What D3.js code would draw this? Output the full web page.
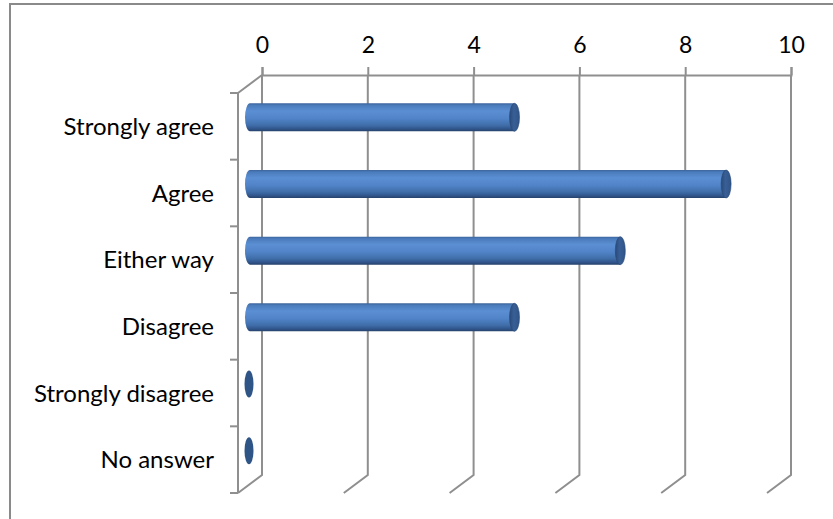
<!DOCTYPE html>
<html>
<head>
<meta charset="utf-8">
<script src="https://cdn.jsdelivr.net/npm/d3@7"></script>
<style>
  body { margin: 0; background: #fff; }
  svg { display: block; }
  text { font-family: Lato, "Open Sans", sans-serif; fill: #000; }
</style>
</head>
<body>
<svg id="chart" width="833" height="519"></svg>
<script>
// Survey responses
const categories = ["Strongly agree", "Agree", "Either way", "Disagree", "Strongly disagree", "No answer"];
const values = [5, 9, 7, 5, 0, 0];
const tickValues = [0, 2, 4, 6, 8, 10];

const svg = d3.select("#chart");

// Back wall of the 3D plot and the depth offset toward the viewer
const back = { left: 262, right: 791, top: 75, bottom: 475 };
const depth = { dx: -24, dy: 18 };
const mid = { dx: depth.dx / 2, dy: depth.dy / 2 };

const x = d3.scaleLinear().domain([0, 10]).range([back.left, back.right]);
const y = d3.scaleBand().domain(categories).range([back.top, back.bottom]);

const gridColor = "#8f8f8f";

// Outer frame
svg.append("rect")
  .attr("x", 10).attr("y", 4).attr("width", 900).attr("height", 600)
  .attr("fill", "none").attr("stroke", "#8a8a8a").attr("stroke-width", 2);

// Gradients for the cylinder body and its end cap
const defs = svg.append("defs");
const body = defs.append("linearGradient").attr("id", "cylBody")
  .attr("x1", 0).attr("y1", 0).attr("x2", 0).attr("y2", 1);
[["0%", "#3b639b"], ["7%", "#4a7bbb"], ["28%", "#5b8fd3"], ["55%", "#5083c7"],
 ["78%", "#406ea9"], ["92%", "#30548a"], ["100%", "#26426b"]]
  .forEach(([o, c]) => body.append("stop").attr("offset", o).attr("stop-color", c));
const cap = defs.append("linearGradient").attr("id", "cylCap")
  .attr("x1", 0).attr("y1", 0).attr("x2", 1).attr("y2", 0);
[["0%", "#2a4b7a"], ["45%", "#385f96"], ["100%", "#2f5488"]]
  .forEach(([o, c]) => cap.append("stop").attr("offset", o).attr("stop-color", c));

// Vertical gridlines on the back wall, each bending down to the floor edge
const grid = svg.append("g").attr("fill", "none").attr("stroke", gridColor).attr("stroke-width", 2);
grid.selectAll("path.grid").data(tickValues).join("path")
  .attr("class", "grid")
  .attr("d", t => `M${x(t)},${back.top}V${back.bottom}l${depth.dx},${depth.dy}`);

// Top value axis
const xAxis = d3.axisTop(x).tickValues(tickValues).tickSize(8).tickPadding(14);
const gx = svg.append("g").attr("transform", `translate(0,${back.top})`).call(xAxis);
gx.selectAll("path, line").attr("stroke", gridColor).attr("stroke-width", 2);
gx.selectAll("text").style("font-size", "23px").style("font-family", "Lato, sans-serif").attr("fill", "#000");

// Left wall edges: top diagonal and front category axis
const frontX = back.left + depth.dx;
const frontTop = back.top + depth.dy;
const frontBottom = back.bottom + depth.dy;
grid.append("path").attr("d", `M${back.left},${back.top}l${depth.dx},${depth.dy}`);
grid.append("path").attr("d", `M${frontX},${frontTop}V${frontBottom}`);
const bounds = categories.map(c => y(c)).concat([back.bottom]);
grid.selectAll("path.ctick").data(bounds).join("path")
  .attr("class", "ctick")
  .attr("d", b => `M${frontX - 8},${b + depth.dy}H${frontX}`);

// Category labels on the front plane
svg.append("g").selectAll("text").data(categories).join("text")
  .attr("x", frontX - 24)
  .attr("y", c => y(c) + y.bandwidth() / 2 + depth.dy)
  .attr("dy", "0.36em")
  .attr("text-anchor", "end")
  .style("font-size", "24px")
  .text(c => c);

// Cylinders, centred at mid depth
const ry = 14, rx = 5;
const bars = svg.append("g");
categories.forEach((c, i) => {
  const v = values[i];
  const cy = y(c) + y.bandwidth() / 2 + mid.dy;
  const x0 = x(0) + mid.dx;
  const x1 = x(v) + mid.dx;
  if (v > 0) {
    bars.append("path")
      .attr("d", `M${x0},${cy - ry}H${x1}V${cy + ry}H${x0}A${rx},${ry} 0 0 1 ${x0},${cy - ry}Z`)
      .attr("fill", "url(#cylBody)");
    bars.append("ellipse")
      .attr("cx", x1).attr("cy", cy).attr("rx", rx).attr("ry", ry)
      .attr("fill", "url(#cylCap)").attr("stroke", "#2a4873").attr("stroke-width", 0.6);
  } else {
    bars.append("ellipse")
      .attr("cx", x0 - 1).attr("cy", cy).attr("rx", rx - 0.5).attr("ry", ry - 0.5)
      .attr("fill", "#2f5587");
  }
});
</script>
</body>
</html>
